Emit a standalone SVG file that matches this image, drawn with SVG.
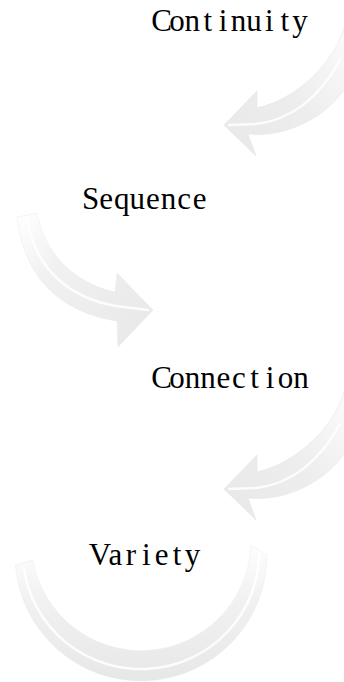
<svg xmlns="http://www.w3.org/2000/svg" width="344" height="682" viewBox="0 0 344 682">
<style>
.lbl{font-family:"Liberation Serif","DejaVu Serif",serif;font-size:31px;fill:#000;text-anchor:middle}
.arw{stroke:#e6e6e6;stroke-width:0.6;stroke-linejoin:round}
.hl{fill:none;stroke:#ffffff;stroke-width:2.5;stroke-linecap:round;opacity:0.85}
</style>
<defs>
<linearGradient id="gL" gradientUnits="userSpaceOnUse" x1="344" y1="40" x2="230" y2="140">
<stop offset="0" stop-color="#fafafa"/>
<stop offset="0.5" stop-color="#ededed"/>
<stop offset="1" stop-color="#e9e9e9"/>
</linearGradient>
<linearGradient id="gR" gradientUnits="userSpaceOnUse" x1="20" y1="212" x2="150" y2="320">
<stop offset="0" stop-color="#ffffff"/>
<stop offset="0.35" stop-color="#f1f1f1"/>
<stop offset="1" stop-color="#e9e9e9"/>
</linearGradient>
<linearGradient id="gRing" gradientUnits="userSpaceOnUse" x1="0" y1="548" x2="0" y2="682">
<stop offset="0" stop-color="#fdfdfd"/>
<stop offset="0.4" stop-color="#f1f1f1"/>
<stop offset="1" stop-color="#e7e7e7"/>
</linearGradient>
<path id="arrowL" d="M257,91 L224,125 L256,156 L248,134 C285,138 330,118 350,80 L352,20 L344,28 C335,60 300,98 257,108 Z"/>
</defs>
<g id="connectors">
<g id="arrow-continuity-sequence">
<use href="#arrowL" fill="url(#gL)" class="arw"/>
<path class="hl" d="M229,125 L256,124 C290,120 318,100 340,60"/>
</g>
<g id="arrow-sequence-connection">
<path fill="url(#gR)" class="arw" stroke-opacity="0.7" d="M117,273 L153,310 L118,347 L117,321 C75,315 25,290 17,217 L37,213 C45,255 75,283 115,292 Z"/>
<path class="hl" d="M148,310 L116,306 C70,298 35,270 27,218"/>
</g>
<g id="arrow-connection-variety">
<use href="#arrowL" y="364" fill="url(#gL)" class="arw"/>
<path class="hl" d="M229,489 L256,488 C290,484 318,464 340,424"/>
</g>
<g id="arrow-variety">
<path fill="url(#gRing)" class="arw" stroke-opacity="0.6" d="M15.4,565 A126,126 0 0 0 267,555 L251,545 A110,110 0 0 1 32.8,560 Z"/>
<path class="hl" d="M24,568 A118,116 0 0 0 259,552" opacity="0.8"/>
</g>
</g>
<g id="node-continuity"><text class="lbl" x="161.5 176.9 192.3 207.7 223.1 238.5 253.9 269.3 284.7 300.1" y="31">Continuity</text></g>
<g id="node-sequence"><text class="lbl" x="90.5 106.1 121.7 137.3 152.9 168.5 184.1 199.7" y="209">Sequence</text></g>
<g id="node-connection"><text class="lbl" x="161.5 177 192.5 208 223.5 239 254.5 270 285.5 301" y="388">Connection</text></g>
<g id="node-variety"><text class="lbl" x="100 115.4 130.8 146.2 161.6 177 192.4" y="565">Variety</text></g>
</svg>
